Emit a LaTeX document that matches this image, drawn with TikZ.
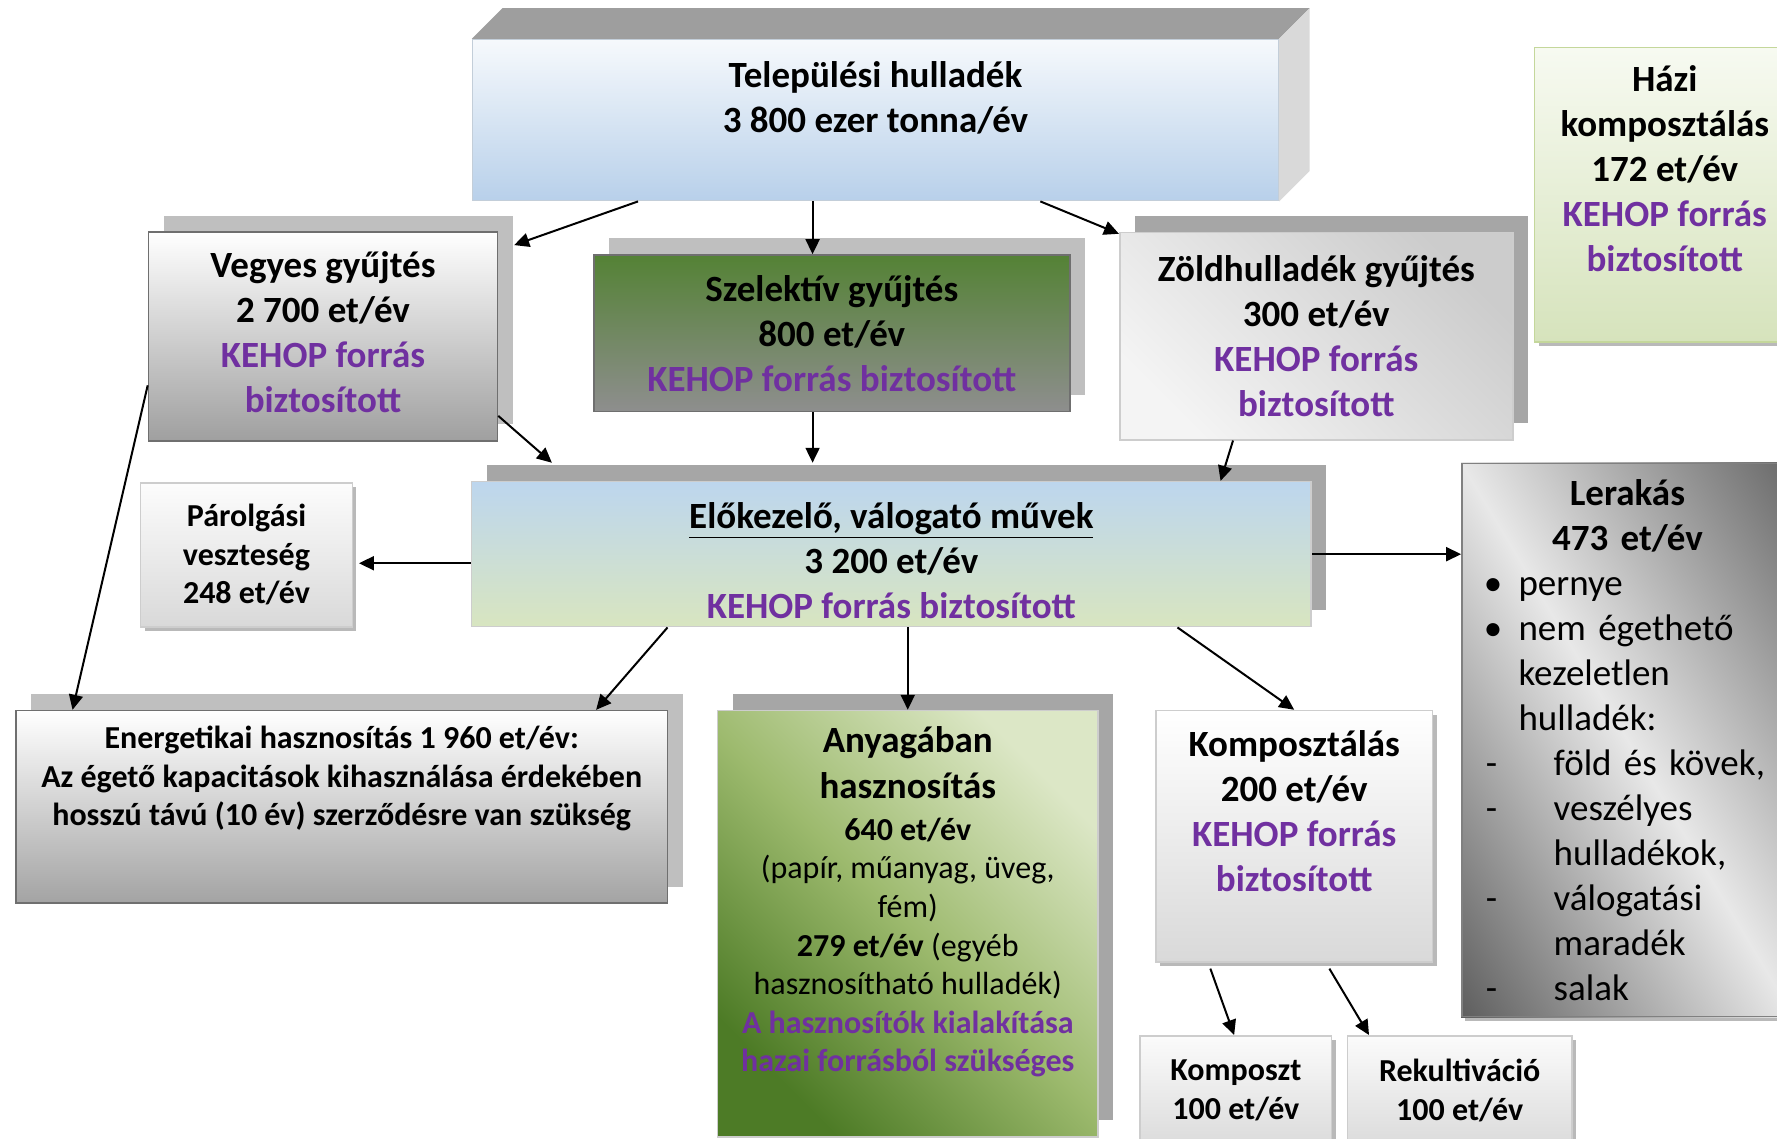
\documentclass[tikz,border=0pt]{standalone}
\usepackage{fontspec}
\setmainfont{Carlito}
\usetikzlibrary{arrows.meta,shadows,calc,backgrounds}

\definecolor{kehop}{HTML}{7030A0}
\definecolor{thtop}{HTML}{F6F9FC}
\definecolor{thbot}{HTML}{B8D0EA}
\definecolor{thline}{HTML}{C3CED9}
\definecolor{ekTop}{HTML}{BDD6EE}
\definecolor{ekBot}{HTML}{D8E5C0}
\definecolor{szTop}{HTML}{548235}
\definecolor{szBot}{HTML}{8E8E8E}
\definecolor{hkTop}{HTML}{F7FAF1}
\definecolor{hkBot}{HTML}{D6E3BC}
\definecolor{hkLine}{HTML}{C4D79B}
\definecolor{ahDark}{HTML}{4D7B26}
\definecolor{ahMid}{HTML}{9DBA6E}
\definecolor{ahLight}{HTML}{DCE7C6}
\definecolor{shadeA}{HTML}{BFBFBF}
\definecolor{shadeB}{HTML}{A6A6A6}
\definecolor{darkline}{HTML}{6F6F6F}
\definecolor{lightline}{HTML}{CDCDCD}

\newcommand\boxfont{\fontsize{18.5pt}{22.5pt}\selectfont}
\newcommand\minifont{\fontsize{16pt}{19.3pt}\selectfont}

\begin{document}
\begin{tikzpicture}[x=0.5667pt,y=-0.5667pt,
  base_box/.style={rectangle,draw,line width=0.8pt,align=center,inner sep=2pt,font=\boxfont\bfseries},
  big_shadow/.style={drop shadow={shadow xshift=7.6pt,shadow yshift=8.3pt,fill=#1,opacity=1}},
  small_shadow/.style={drop shadow={shadow xshift=2pt,shadow yshift=-2pt,fill=gray!55,opacity=1}},
  lbl/.style={align=center,inner sep=0pt,font=\boxfont\bfseries},
  arr/.style={-{Triangle[length=7.5pt,width=7pt]},line width=1pt}]

\useasboundingbox (0,0) rectangle (1568,1005);

% top row
\node[base_box,draw=thline,top color=thtop,bottom color=thbot,minimum width=402.9pt,minimum height=80.5pt,
  label={[lbl,yshift=11.3pt]center:Települési hulladék\\3 800 ezer tonna/év}] (th) at (772.5,106) {};
\fill[shadeB!95!black] (th.north west) -- ++(15.3pt,15.3pt) -- ([shift={(15.3pt,15.3pt)}]th.north east) -- (th.north east) -- cycle;
\fill[gray!30] (th.north east) -- ++(15.3pt,15.3pt) -- ([shift={(15.3pt,15.3pt)}]th.south east) -- (th.south east) -- cycle;

\node[base_box,draw=hkLine,top color=hkTop,bottom color=hkBot,small_shadow,minimum width=130.3pt,minimum height=147.3pt,
  label={[lbl,yshift=13pt]center:Házi\\komposztálás\\172 et/év\\\textcolor{kehop}{KEHOP forrás}\\\textcolor{kehop}{biztosított}}] (hk) at (1469,172) {};

% collection
\node[base_box,draw=darkline,big_shadow=shadeA,top color=white,bottom color=gray!75,minimum width=174.5pt,minimum height=104.3pt,
  label={[lbl,yshift=2pt]center:Vegyes gyűjtés\\2 700 et/év\\\textcolor{kehop}{KEHOP forrás}\\\textcolor{kehop}{biztosított}}] (vg) at (285,297) {};
\node[base_box,draw=darkline,big_shadow=shadeA,top color=szTop,bottom color=szBot,minimum width=238pt,minimum height=78.2pt] (sz) at (734,294)
  {Szelektív gyűjtés\\800 et/év\\\textcolor{kehop}{KEHOP forrás biztosított}};
\node[base_box,draw=lightline,big_shadow=shadeB,top color=gray!9,bottom color=gray!40,shading angle=135,minimum width=196.6pt,minimum height=103.7pt] (zh) at (1161.5,296.5)
  {Zöldhulladék gyűjtés\\300 et/év\\\textcolor{kehop}{KEHOP forrás}\\\textcolor{kehop}{biztosított}};

% treatment
\node[base_box,draw=lightline,big_shadow=shadeB,top color=ekTop,bottom color=ekBot,minimum width=419.9pt,minimum height=72.5pt,
  label={[lbl,yshift=-3pt]center:\underline{Előkezelő, válogató művek}\\3 200 et/év\\\textcolor{kehop}{KEHOP forrás biztosított}}] (ek) at (786.5,489) {};
\node[base_box,font=\minifont\bfseries,draw=lightline,small_shadow,top color=gray!2,bottom color=gray!30,minimum width=106pt,minimum height=72pt] (pv) at (217.5,489.5)
  {Párolgási\\veszteség\\248 et/év};
\node[base_box,font=\boxfont,draw=gray,text width=165.5pt,inner xsep=0pt,minimum height=276.5pt,align=left] (lr) at (1436,653)
  {\makebox[165.5pt]{\textbf{Lerakás}}\\
   \makebox[165.5pt]{\textbf{473 et/év}}\\
   \hspace*{11pt}\makebox[17.3pt][l]{\textbullet}pernye\\
   \hspace*{11pt}\makebox[17.3pt][l]{\textbullet}nem égethető\\
   \hspace*{28.3pt}kezeletlen\\
   \hspace*{28.3pt}hulladék:\\
   \hspace*{12pt}\makebox[33.9pt][l]{-}föld és kövek,\\
   \hspace*{12pt}\makebox[33.9pt][l]{-}veszélyes\\
   \hspace*{45.9pt}hulladékok,\\
   \hspace*{12pt}\makebox[33.9pt][l]{-}válogatási\\
   \hspace*{45.9pt}maradék\\
   \hspace*{12pt}\makebox[33.9pt][l]{-}salak};
% diagonal grey fill of the landfill box
\begin{scope}[on background layer]
  \fill[gray!55] ([shift={(2pt,-2pt)}]lr.south west) rectangle ([shift={(2pt,-2pt)}]lr.north east);
  \clip (lr.south west) rectangle (lr.north east);
  \shade[top color=black!66,bottom color=black!62,middle color=gray!18,shading angle=121]
    ($(lr.center)+(-265,-265)$) rectangle ($(lr.center)+(265,265)$);
\end{scope}

% utilisation
\node[base_box,draw=darkline,big_shadow=shadeA,top color=white,bottom color=gray!72,minimum width=325.8pt,minimum height=96.3pt,
  label={[lbl,font=\minifont\bfseries,yshift=14.2pt]center:Energetikai hasznosítás 1 960 et/év:\\Az égető kapacitások kihasználása érdekében\\hosszú távú (10 év) szerződésre van szükség}] (en) at (301.5,712) {};
\node[base_box,draw=lightline,big_shadow=shadeB,top color=ahDark,bottom color=ahLight,middle color=ahMid,shading angle=135,minimum width=190.4pt,minimum height=213.1pt,
  label={[lbl,font=\minifont,yshift=10.8pt]center:{\boxfont\bfseries Anyagában}\\[3.4pt]{\boxfont\bfseries hasznosítás}\\[1.7pt]\textbf{640 et/év}\\(papír, műanyag, üveg,\\fém)\\\textbf{279 et/év} (egyéb\\hasznosítható hulladék)\\\textbf{\textcolor{kehop}{A hasznosítók kialakítása}}\\\textbf{\textcolor{kehop}{hazai forrásból szükséges}}}] (ah) at (801,815) {};
\node[base_box,draw=lightline,small_shadow,top color=white,bottom color=gray!30,minimum width=138.3pt,minimum height=125.8pt,
  label={[lbl,yshift=12.5pt]center:Komposztálás\\200 et/év\\\textcolor{kehop}{KEHOP forrás}\\\textcolor{kehop}{biztosított}}] (ko) at (1142,738) {};
\node[base_box,font=\minifont\bfseries,draw=lightline,small_shadow,top color=gray!3,bottom color=gray!28,minimum width=95.8pt,minimum height=54.4pt] (kp) at (1090.5,962)
  {Komposzt\\100 et/év};
\node[base_box,font=\minifont\bfseries,draw=lightline,small_shadow,top color=gray!3,bottom color=gray!28,minimum width=112.2pt,minimum height=54.4pt] (rk) at (1288,962)
  {Rekultiváció\\100 et/év};

% flows
\draw[arr] (563,0 |- th.south) -- ([shift={(14,12)}]vg.north east);
\draw[arr] (717,0 |- th.south) -- (717,0 |- sz.north);
\draw[arr] (918,0 |- th.south) -- ([shift={(0,2)}]zh.north west);
\draw[arr] (vg.east |- 0,367) -- ($(487,0 |- ek.north)+(0,-16)$);
\draw[arr] (717,0 |- sz.south) -- ($(717,0 |- ek.north)+(0,-16)$);
\draw[arr] (1088,0 |- zh.south) -- (1077,0 |- ek.north);
\draw[arr] (vg.west |- 0,340) -- (64,0 |- en.north);
\draw[arr] (ek.west |- 0,497) -- ($(pv.east |- 0,497)+(5,0)$);
\draw[arr] (ek.east) -- (lr.west |- ek.east);
\draw[arr] (589,0 |- ek.south) -- (526,0 |- en.north);
\draw[arr] (ah.north |- ek.south) -- (ah.north);
\draw[arr] (1039,0 |- ek.south) -- (ko.north);
\draw[arr] ($(1068,0 |- ko.south)+(0,5)$) -- (1089,0 |- kp.north);
\draw[arr] ($(1173,0 |- ko.south)+(0,5)$) -- (1208,0 |- rk.north);
\end{tikzpicture}
\end{document}
